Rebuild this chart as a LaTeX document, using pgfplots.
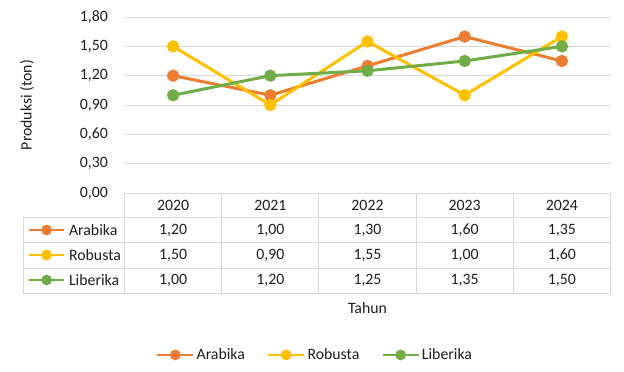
\documentclass[border=0pt]{standalone}
\usepackage{fontspec}
\setmainfont{Carlito}
\usepackage{pgfplots}
\usepackage{pgfplotstable}
\pgfplotsset{compat=1.18}
\definecolor{cA}{HTML}{ED7D31}
\definecolor{cR}{HTML}{FFC000}
\definecolor{cL}{HTML}{70AD47}
\definecolor{gridc}{HTML}{D9D9D9}
\definecolor{txt}{HTML}{1E1E1E}

\pgfplotstableread{
x year Arabika Robusta Liberika
0 2020 1.20 1.50 1.00
1 2021 1.00 0.90 1.20
2 2022 1.30 1.55 1.25
3 2023 1.60 1.00 1.35
4 2024 1.35 1.60 1.50
}\data

\begin{document}
\begin{tikzpicture}[x=1bp, y=1bp, font=\fontsize{15.8bp}{18bp}\selectfont, text=txt]
\useasboundingbox (-124.5,-178) rectangle (499.5,193);
% table grid
\begin{scope}[gridc, line width=0.9bp]
  \foreach \y in {-24,-49.5,-75,-100} {\draw (-101.2,\y) -- (486,\y);}
  \draw (-101.2,-24) -- (-101.2,-100);
  \foreach \i in {0,...,5} {\draw ({97.2*\i},0) -- ({97.2*\i},-100);}
\end{scope}
\begin{axis}[
  at={(0,0)}, anchor=south west,
  scale only axis, width=486bp, height=176bp,
  xmin=-0.5, xmax=4.5, ymin=0, ymax=1.8,
  axis line style={draw=none},
  xtick=\empty,
  ytick={0,0.3,0.6,0.9,1.2,1.5,1.8},
  major tick length=0pt,
  ymajorgrids, grid style={gridc, line width=0.9bp},
  /pgf/number format/assume math mode=true,
  yticklabel style={/pgf/number format/.cd, fixed, fixed zerofill, precision=2, use comma, /tikz/.cd, anchor=east, inner sep=0pt, xshift=-16.5bp, text=txt},
  ylabel={Produksi (ton)},
  every axis y label/.style={at={(rel axis cs:0,0.5)}, xshift=-97.5bp, rotate=90, anchor=center, text=txt},
  clip=false,
  legend columns=3,
  legend style={draw=none, fill=none, at={(0.392,-0.92)}, anchor=center, text=txt,
    /tikz/every even column/.append style={column sep=20bp}},
  legend image code/.code={\draw[mark repeat=2,mark phase=2,#1] plot coordinates {(0bp,0bp) (18bp,0bp) (36bp,0bp)};},
  legend image post style={line width=2.6bp, mark size=4bp},
  every axis plot/.append style={line width=3bp, mark=*, mark size=4.6bp},
]
\addplot[cA, mark options={fill=cA}] table[x=x, y=Arabika] {\data};
\addlegendentry{Arabika}
\addplot[cR, mark options={fill=cR}] table[x=x, y=Robusta] {\data};
\addlegendentry{Robusta}
\addplot[cL, mark options={fill=cL}] table[x=x, y=Liberika] {\data};
\addlegendentry{Liberika}
\end{axis}
% legend keys inside the data table
\begin{axis}[
  at={(0,0)}, anchor=south west,
  scale only axis, width=486bp, height=176bp,
  xmin=0, xmax=1, ymin=0, ymax=1, hide axis,
  legend columns=1,
  legend cell align=left,
  legend style={draw=none, fill=none, inner sep=0pt, outer sep=0pt, at={(-0.1992,-0.1392)}, anchor=north west, text=txt,
    row sep=0pt,
    nodes={inner sep=0pt, text height=17.5bp, text depth=7.5bp},
    /tikz/every odd column/.append style={column sep=3.5bp}},
  legend image code/.code={\draw[mark repeat=2,mark phase=2,#1] plot coordinates {(0bp,0bp) (17.6bp,0bp) (35.3bp,0bp)};},
]
\addlegendimage{cA, line width=2.6bp, mark=*, mark size=4bp, mark options={fill=cA}}
\addlegendentry{Arabika}
\addlegendimage{cR, line width=2.6bp, mark=*, mark size=4bp, mark options={fill=cR}}
\addlegendentry{Robusta}
\addlegendimage{cL, line width=2.6bp, mark=*, mark size=4bp, mark options={fill=cL}}
\addlegendentry{Liberika}
\end{axis}
% table text
\foreach \i in {0,...,4} {
  \pgfplotstablegetelem{\i}{year}\of\data
  \node at ({48.6+97.2*\i},-12) {\pgfplotsretval};
  \pgfplotstablegetelem{\i}{Arabika}\of\data
  \node at ({48.6+97.2*\i},-37) {\pgfmathprintnumber[fixed, fixed zerofill, precision=2, use comma, assume math mode=true]{\pgfplotsretval}};
  \pgfplotstablegetelem{\i}{Robusta}\of\data
  \node at ({48.6+97.2*\i},-62) {\pgfmathprintnumber[fixed, fixed zerofill, precision=2, use comma, assume math mode=true]{\pgfplotsretval}};
  \pgfplotstablegetelem{\i}{Liberika}\of\data
  \node at ({48.6+97.2*\i},-87) {\pgfmathprintnumber[fixed, fixed zerofill, precision=2, use comma, assume math mode=true]{\pgfplotsretval}};
}
\node at (243,-115) {Tahun};
\end{tikzpicture}
\end{document}
